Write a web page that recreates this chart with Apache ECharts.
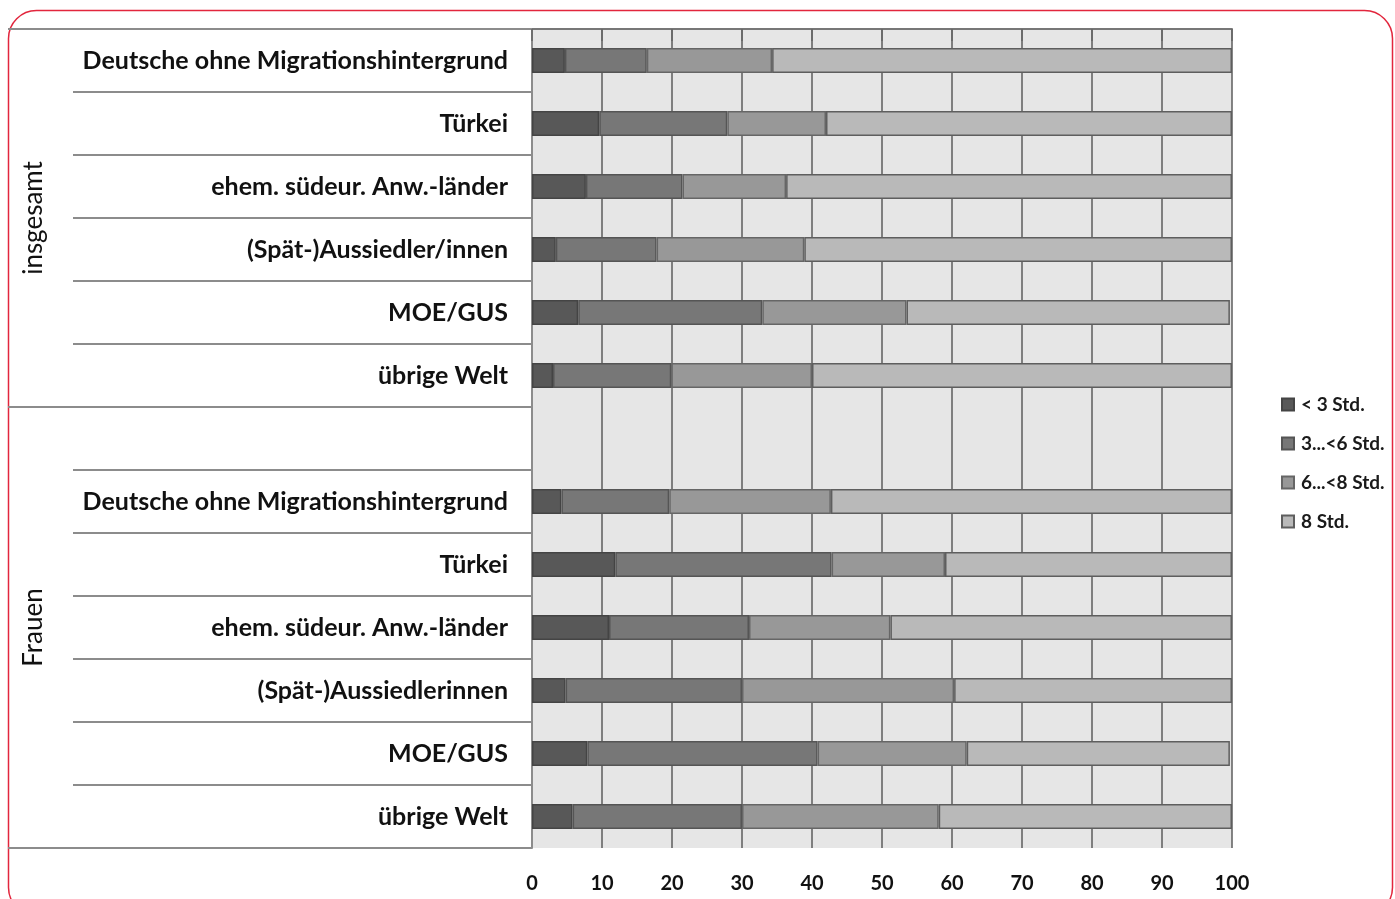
<!DOCTYPE html>
<html>
<head>
<meta charset="utf-8">
<script src="https://cdn.jsdelivr.net/npm/echarts@6/dist/echarts.min.js"></script>
<style>
  html, body { margin: 0; padding: 0; background: #fff; }
  #chart { width: 1395px; height: 899px; }
</style>
</head>
<body>
<div id="chart"></div>
<script>
// Row labels (top to bottom); the empty entry is the spacer between the two groups
const categories = [
  'Deutsche ohne Migrationshintergrund', 'Türkei', 'ehem. südeur. Anw.-länder',
  '(Spät-)Aussiedler/innen', 'MOE/GUS', 'übrige Welt',
  '',
  'Deutsche ohne Migrationshintergrund', 'Türkei', 'ehem. südeur. Anw.-länder',
  '(Spät-)Aussiedlerinnen', 'MOE/GUS', 'übrige Welt'
];

// Group labels and the row ranges they cover
const groupNames = ['insgesamt', 'Frauen'];
const groupBounds = [0, 6, 13];

// Share of respondents (%) by daily duration
const seriesNames = ['< 3 Std.', '3...<6 Std.', '6...<8 Std.', '8 Std.'];
const under3 = [4.7, 9.6, 7.7, 3.4, 6.6, 3.0, null, 4.2, 11.9, 11.0, 4.8, 7.9, 5.8];
const from3to6 = [11.7, 18.3, 13.8, 14.4, 26.3, 16.9, null, 15.4, 30.9, 20.0, 25.2, 32.9, 24.2];
const from6to8 = [17.9, 14.1, 14.8, 21.1, 20.6, 20.1, null, 23.1, 16.2, 20.2, 30.3, 21.3, 28.1];
const full8 = [65.7, 58.0, 63.7, 61.1, 46.2, 60.0, null, 57.3, 41.0, 48.8, 39.7, 37.6, 41.9];

const xTicks = [0, 10, 20, 30, 40, 50, 60, 70, 80, 90, 100];

const seriesData = [under3, from3to6, from6to8, full8];
const fills = ['#585858', '#777777', '#989898', '#b9b9b9'];
const edges = ['#444444', '#555555', '#666666', '#5e5e5e'];

const labelFont = 'Lato, "Open Sans", sans-serif';

const chart = echarts.init(document.getElementById('chart'), null, { renderer: 'canvas' });

const groupCenters = groupNames.map((_, i) => (groupBounds[i] + groupBounds[i + 1]) / 2);

chart.setOption({
  animation: false,
  backgroundColor: '#ffffff',
  textStyle: { fontFamily: labelFont },
  graphic: [{
    type: 'rect',
    shape: { x: 8.5, y: 10.5, width: 1384, height: 905, r: 28 },
    style: { fill: 'none', stroke: '#e2263d', lineWidth: 1.5 },
    silent: true,
    z: -1
  }],
  grid: {
    left: 532, right: 163, top: 29, bottom: 51,
    show: true, backgroundColor: '#e6e6e6', borderWidth: 0
  },
  legend: {
    orient: 'vertical',
    left: 1276, top: 390,
    itemWidth: 12, itemHeight: 12, itemGap: 20,
    icon: 'rect',
    data: seriesNames,
    textStyle: { fontFamily: labelFont, fontWeight: 'bold', fontSize: 19, color: '#1a1a1a', padding: [0, 0, 0, 2] }
  },
  xAxis: {
    type: 'value', min: 0, max: 100, interval: 10,
    axisLine: { show: true, lineStyle: { color: '#777', width: 2 } },
    axisTick: { show: true, length: 12, lineStyle: { color: '#666', width: 1.5 } },
    axisLabel: {
      margin: 26, fontSize: 20, fontWeight: 'bold', color: '#111', fontFamily: labelFont,
      formatter: v => xTicks.includes(v) ? String(v) : ''
    },
    splitLine: { show: true, lineStyle: { color: '#5c5c5c', width: 1.5 } }
  },
  yAxis: [{
    type: 'category',
    data: categories,
    inverse: true,
    axisLine: { show: true, lineStyle: { color: '#8c8c8c', width: 2 } },
    axisTick: { show: true, interval: 0, length: 459, lineStyle: { color: '#8c8c8c', width: 2 } },
    axisLabel: {
      interval: 0, margin: 24, fontSize: 25, fontWeight: 'bold', color: '#111', fontFamily: labelFont
    },
    splitLine: { show: false }
  }, {
    type: 'value',
    min: 0, max: 13,
    inverse: true,
    position: 'left',
    axisLine: { show: false },
    splitLine: { show: false },
    axisTick: { show: true, customValues: groupBounds, length: 524, lineStyle: { color: '#8c8c8c', width: 2 } },
    axisLabel: {
      customValues: groupCenters,
      rotate: 90, margin: 485, fontSize: 26, color: '#111', fontFamily: labelFont,
      formatter: v => groupNames[groupCenters.indexOf(v)] || ''
    }
  }],
  series: seriesNames.map((name, i) => ({
    name,
    type: 'bar',
    stack: 'total',
    yAxisIndex: 0,
    barWidth: 25,
    data: seriesData[i],
    itemStyle: { color: fills[i], borderColor: edges[i], borderWidth: 1.5 }
  }))
});
</script>
</body>
</html>
